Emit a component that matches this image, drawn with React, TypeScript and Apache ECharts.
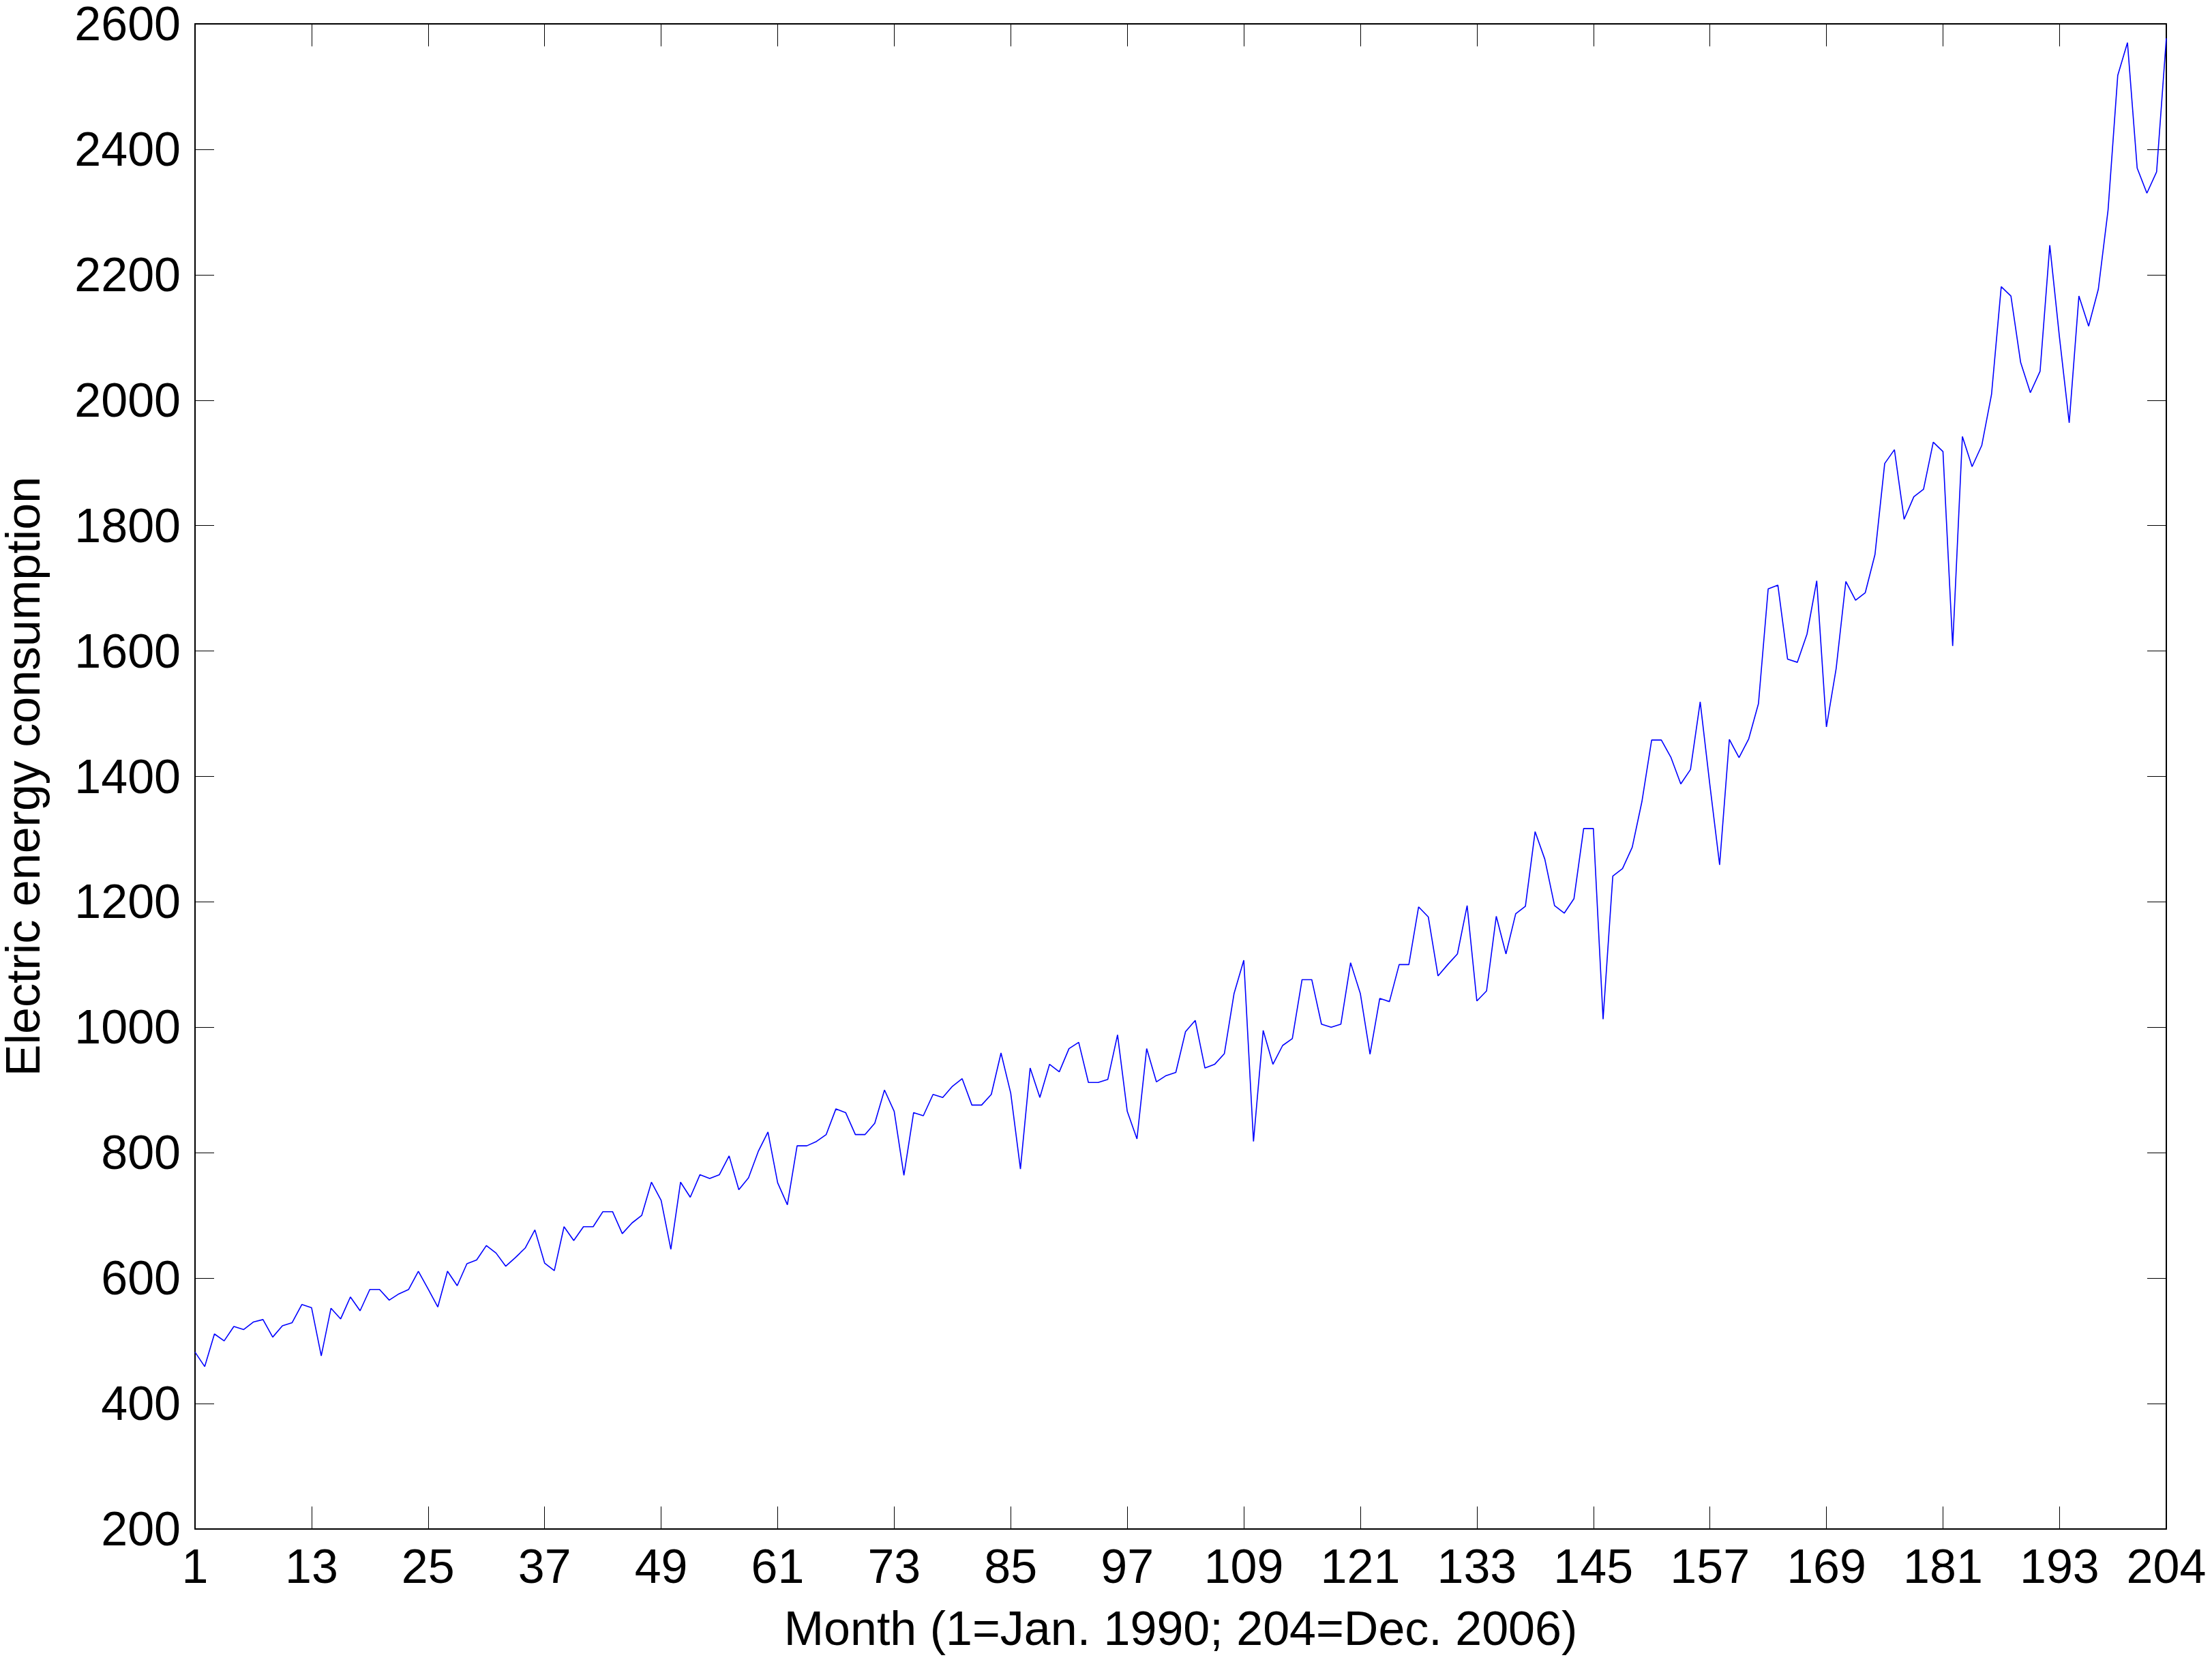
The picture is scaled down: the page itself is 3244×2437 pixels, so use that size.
import React, { useEffect, useRef } from "react";
import * as echarts from "echarts";

const xTickLabels = [1, 13, 25, 37, 49, 61, 73, 85, 97, 109, 121, 133, 145, 157, 169, 181, 193, 204];
const yTickLabels = [200, 400, 600, 800, 1000, 1200, 1400, 1600, 1800, 2000, 2200, 2400, 2600];

// Electric energy consumption, month 1 (Jan. 1990) .. month 204 (Dec. 2006)
const consumption1990to1995 = [
  482, 459, 511, 500, 523, 518, 530, 534, 506, 524, 529, 558,
  553, 476, 552, 535, 570, 548, 582, 582, 565, 575, 582, 611,
  583, 554, 611, 588, 623, 629, 652, 640, 619, 633, 648, 677,
  624, 612, 682, 660, 682, 682, 706, 706, 671, 688, 700, 753,
  724, 646, 753, 729, 765, 759, 765, 795, 741, 760, 802, 833,
  752, 717, 811, 811, 818, 829, 870, 864, 829, 829, 847, 900,
];
const consumption1996to2001 = [
  866, 764, 864, 859, 893, 888, 906, 918, 876, 876, 893, 959,
  895, 774, 935, 888, 941, 929, 966, 976, 912, 912, 917, 988,
  866, 822, 966, 913, 923, 928, 993, 1011, 935, 941, 958, 1054,
  1107, 818, 995, 941, 971, 982, 1076, 1076, 1005, 1000, 1005, 1103,
  1054, 957, 1046, 1041, 1100, 1100, 1192, 1176, 1082, 1100, 1117, 1194,
  1042, 1058, 1177, 1117, 1181, 1193, 1312, 1268, 1194, 1182, 1205, 1317,
];
const consumption2002to2006 = [
  1317, 1013, 1241, 1253, 1287, 1360, 1458, 1458, 1430, 1388, 1411, 1519,
  1386, 1259, 1459, 1430, 1460, 1516, 1699, 1705, 1587, 1582, 1627, 1712,
  1479, 1572, 1711, 1681, 1693, 1754, 1899, 1921, 1810, 1846, 1858, 1933,
  1918, 1608, 1942, 1894, 1928, 2009, 2181, 2166, 2060, 2012, 2046, 2247,
  2100, 1964, 2166, 2118, 2177, 2303, 2518, 2570, 2370, 2330, 2364, 2577,
];

const consumption = [...consumption1990to1995, ...consumption1996to2001, ...consumption2002to2006];
const months = consumption.map((_, i) => i + 1);

const FONT = "'Liberation Sans', Arial, Helvetica, sans-serif";

export default function App() {
  const ref = useRef<HTMLDivElement>(null);

  useEffect(() => {
    if (!ref.current) return;
    const chart = echarts.init(ref.current, null, { renderer: "svg" });

    const axisLine = { show: true, onZero: false, lineStyle: { color: "#000", width: 2 } };
    const labelStyle = { color: "#000", fontSize: 70, fontFamily: FONT };
    const plain = (v: number) => String(v);

    chart.setOption({
      animation: false,
      backgroundColor: "#fff",
      grid: {
        left: 286,
        right: 67,
        top: 35,
        bottom: 195,
        containLabel: false,
        outerBoundsMode: "none",
      },
      xAxis: [
        {
          type: "value",
          position: "bottom",
          min: 1,
          max: 204,
          axisLine,
          axisTick: {
            show: true,
            inside: true,
            length: 33,
            customValues: xTickLabels,
            lineStyle: { color: "#000", width: 1 },
          },
          axisLabel: { ...labelStyle, margin: 20, customValues: xTickLabels, formatter: plain },
          splitLine: { show: false },
          name: "Month (1=Jan. 1990; 204=Dec. 2006)",
          nameLocation: "middle",
          nameGap: 111,
          nameTextStyle: { ...labelStyle },
        },
        {
          type: "value",
          position: "top",
          min: 1,
          max: 204,
          axisLine,
          axisTick: {
            show: true,
            inside: true,
            length: 33,
            customValues: xTickLabels,
            lineStyle: { color: "#000", width: 1 },
          },
          axisLabel: { show: false },
          splitLine: { show: false },
        },
      ],
      yAxis: [
        {
          type: "value",
          position: "left",
          min: yTickLabels[0],
          max: yTickLabels[yTickLabels.length - 1],
          interval: 200,
          axisLine,
          axisTick: { show: true, inside: true, length: 28, lineStyle: { color: "#000", width: 1 } },
          axisLabel: { ...labelStyle, lineHeight: 56, margin: 21, formatter: plain },
          splitLine: { show: false },
          name: "Electric energy consumption",
          nameLocation: "middle",
          nameRotate: 90,
          nameGap: 224,
          nameTextStyle: { ...labelStyle, lineHeight: 56 },
        },
        {
          type: "value",
          position: "right",
          min: yTickLabels[0],
          max: yTickLabels[yTickLabels.length - 1],
          interval: 200,
          axisLine,
          axisTick: { show: true, inside: true, length: 28, lineStyle: { color: "#000", width: 1 } },
          axisLabel: { show: false },
          splitLine: { show: false },
        },
      ],
      series: [
        {
          type: "line",
          xAxisIndex: 0,
          yAxisIndex: 0,
          data: months.map((m, i) => [m, consumption[i]]),
          showSymbol: false,
          symbol: "none",
          lineStyle: { color: "#0000FF", width: 1.6 },
          itemStyle: { color: "#0000FF" },
        },
      ],
    });

    return () => chart.dispose();
  }, []);

  return (
    <div
      ref={ref}
      style={{ position: "absolute", left: 0, top: 0, width: 3244, height: 2437, background: "#fff" }}
    />
  );
}
